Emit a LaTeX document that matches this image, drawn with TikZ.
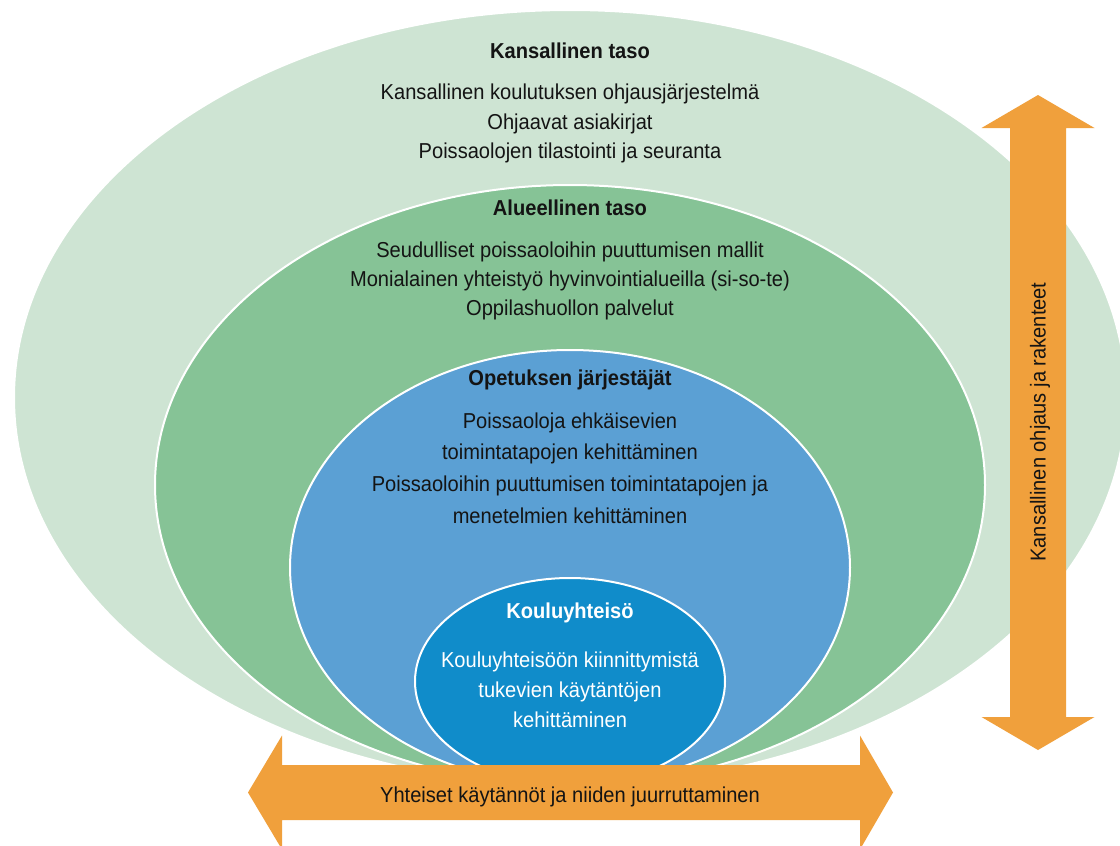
\documentclass[tikz,border=0pt]{standalone}
\usepackage{fontspec}
\setmainfont{Liberation Sans}[FakeStretch=0.93]
\definecolor{outerg}{RGB}{206,228,211}
\definecolor{midg}{RGB}{134,195,150}
\definecolor{blue1}{RGB}{91,160,212}
\definecolor{blue2}{RGB}{16,140,202}
\definecolor{orng}{RGB}{240,160,60}
\definecolor{txt}{RGB}{20,20,20}
\tikzset{
  layer/.style={draw=white, line width=2pt},
  txtline/.style={anchor=base, inner sep=0pt, text=txt, font=\fontsize{21.6}{25}\selectfont},
  headline/.style={txtline, font=\fontsize{21.6}{25}\selectfont\bfseries},
  wtxt/.style={txtline, text=white},
  whead/.style={headline, text=white},
  bigarrow/.style={fill=orng, draw=none}
}
\begin{document}
\begin{tikzpicture}[x=1pt,y=-1pt]
\useasboundingbox (0,0) rectangle (1120,846);
\clip (0,0) rectangle (1120,846);
% nested ellipses
\fill[white] (0,0) rectangle (1120,846);
\path[layer, fill=outerg] (570,397.5) ellipse [x radius=556pt, y radius=387.5pt];
\path[layer, fill=midg] (570,485) ellipse [x radius=415pt, y radius=300pt];
\path[layer, fill=blue1] (570,567.5) ellipse [x radius=280pt, y radius=217.5pt];
\path[layer, fill=blue2] (570,681.5) ellipse [x radius=155pt, y radius=103.5pt];
% texts
\node[headline] (h1) at (570,58) {Kansallinen taso};
\node[txtline] (t11) at (570,99) {Kansallinen koulutuksen ohjausjärjestelmä};
\node[txtline] (t12) at (570,129) {Ohjaavat asiakirjat};
\node[txtline] (t13) at (570,158) {Poissaolojen tilastointi ja seuranta};
\node[headline] (h2) at (570,215) {Alueellinen taso};
\node[txtline] (t21) at (570,257) {Seudulliset poissaoloihin puuttumisen mallit};
\node[txtline] (t22) at (570,286) {Monialainen yhteistyö hyvinvointialueilla (si-so-te)};
\node[txtline] (t23) at (570,315) {Oppilashuollon palvelut};
\node[headline] (h3) at (570,385) {Opetuksen järjestäjät};
\node[txtline] (t31) at (570,428) {Poissaoloja ehkäisevien};
\node[txtline] (t32) at (570,459) {toimintatapojen kehittäminen};
\node[txtline] (t33) at (570,491) {Poissaoloihin puuttumisen toimintatapojen ja};
\node[txtline] (t34) at (570,523) {menetelmien kehittäminen};
\node[whead] (h4) at (570,618) {Kouluyhteisö};
\node[wtxt] (t41) at (570,667) {Kouluyhteisöön kiinnittymistä};
\node[wtxt] (t42) at (570,697) {tukevien käytäntöjen};
\node[wtxt] (t43) at (570,727) {kehittäminen};
% horizontal double arrow
\fill[bigarrow] (248,792.5) -- (282,735.5) -- (282,765) -- (860,765) -- (860,735.5)
  -- (893,792.5) -- (860,849.5) -- (860,820) -- (282,820) -- (282,849.5) -- cycle;
\node[txtline] (ha) at (570,802) {Yhteiset käytännöt ja niiden juurruttaminen};
% vertical double arrow
\fill[bigarrow] (1038,95) -- (1094.5,128) -- (1066,128) -- (1066,717) -- (1094.5,717)
  -- (1038,750) -- (981.5,717) -- (1010,717) -- (1010,128) -- (981.5,128) -- cycle;
\node[txtline, anchor=center, rotate=90] (va) at (1040,422) {Kansallinen ohjaus ja rakenteet};
\end{tikzpicture}
\end{document}
